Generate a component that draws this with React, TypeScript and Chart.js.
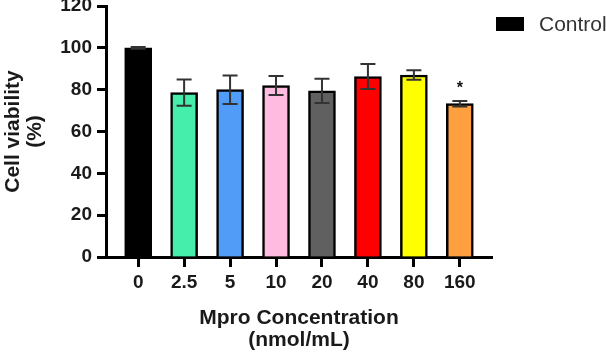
import React, { useEffect, useRef } from 'react';
import { Chart, registerables } from 'chart.js';

Chart.register(...registerables);

const categories = ['0', '2.5', '5', '10', '20', '40', '80', '160'];
const viability = [100, 78.6, 80, 82, 79.4, 86.3, 87, 73.3];
const errorMargins = [0.4, 6.3, 6.8, 4.5, 5.8, 6, 2.3, 1.3];
const barColors = ['#000000', '#45EEAA', '#509CF7', '#FFBCE0', '#606060', '#FF0000', '#FFFF00', '#FFA040'];
const significance = ['', '', '', '', '', '', '', '*'];
const yTicks = [0, 20, 40, 60, 80, 100, 120];
const seriesLabel = 'Control';
const xTitle = ['Mpro Concentration', '(nmol/mL)'];
const yTitle = ['Cell viability', '(%)'];

const FONT = '"Liberation Sans", Arial, Helvetica, sans-serif';

const overlayPlugin = {
  id: 'overlay',
  afterDatasetsDraw(chart: any) {
    const ctx = chart.ctx;
    const xs = chart.scales.x;
    const ys = chart.scales.y;
    ctx.save();
    ctx.strokeStyle = '#333333';
    ctx.lineWidth = 2;
    viability.forEach((v, i) => {
      const e = errorMargins[i];
      const cx = xs.getPixelForValue(i);
      const yTop = ys.getPixelForValue(v + e);
      const yBot = ys.getPixelForValue(v - e);
      ctx.beginPath();
      ctx.moveTo(cx, yTop);
      ctx.lineTo(cx, yBot);
      ctx.moveTo(cx - 7.5, yTop);
      ctx.lineTo(cx + 7.5, yTop);
      ctx.moveTo(cx - 7.5, yBot);
      ctx.lineTo(cx + 7.5, yBot);
      ctx.stroke();
      if (significance[i]) {
        ctx.fillStyle = '#111';
        ctx.font = `bold 16px ${FONT}`;
        ctx.textAlign = 'center';
        ctx.textBaseline = 'alphabetic';
        ctx.fillText(significance[i], cx, yTop - 8);
      }
    });
    ctx.restore();
  },
  afterDraw(chart: any) {
    const ctx = chart.ctx;
    const area = chart.chartArea;
    ctx.save();
    ctx.fillStyle = '#1a1a1a';
    ctx.font = `bold 21px ${FONT}`;
    ctx.textAlign = 'center';
    ctx.textBaseline = 'middle';
    const cx = (area.left + area.right) / 2;
    ctx.fillText(xTitle[0], cx, 318);
    ctx.fillText(xTitle[1], cx, 340);
    const cy = (area.top + area.bottom) / 2;
    ctx.save();
    ctx.translate(13, cy);
    ctx.rotate(-Math.PI / 2);
    ctx.fillText(yTitle[0], 0, 0);
    ctx.restore();
    ctx.save();
    ctx.translate(35, cy);
    ctx.rotate(-Math.PI / 2);
    ctx.fillText(yTitle[1], 0, 0);
    ctx.restore();
    // legend
    ctx.fillStyle = barColors[0];
    ctx.fillRect(496, 17, 28, 14);
    ctx.fillStyle = '#333333';
    ctx.font = `21px ${FONT}`;
    ctx.textAlign = 'left';
    ctx.fillText(seriesLabel, 539, 25);
    ctx.restore();
  },
};

export default function App() {
  const ref = useRef<HTMLCanvasElement | null>(null);
  useEffect(() => {
    if (!ref.current) return;
    const chart = new Chart(ref.current, {
      type: 'bar',
      data: {
        datasets: [
          {
            label: seriesLabel,
            data: viability.map((v, i) => ({ x: i, y: v })),
            backgroundColor: barColors,
            borderColor: '#000000',
            borderWidth: 2.5,
            barThickness: 27,
          },
        ],
      },
      options: {
        responsive: false,
        animation: false,
        devicePixelRatio: 1,
        layout: { padding: { left: 0, top: 6, right: 114, bottom: 0 } },
        plugins: { legend: { display: false }, tooltip: { enabled: false } },
        scales: {
          x: {
            type: 'linear',
            min: -0.7,
            max: 7.7,
            offset: false,
            afterBuildTicks: (s: any) => {
              s.ticks = categories.map((_, i) => ({ value: i }));
            },
            afterFit: (s: any) => {
              s.height = 97;
              s.paddingLeft = 0;
              s.paddingRight = 0;
            },
            ticks: {
              autoSkip: false,
              maxRotation: 0,
              padding: 4,
              color: '#1a1a1a',
              font: { family: FONT, size: 19, weight: 'bold' },
              callback: (v: any) => categories[Math.round(v)] ?? '',
            },
            grid: { offset: false, drawOnChartArea: false, drawTicks: true, tickLength: 10, tickWidth: 3, tickColor: '#000' },
            border: { display: true, width: 3, color: '#000' },
          },
          y: {
            type: 'linear',
            min: 0,
            max: 120,
            afterBuildTicks: (s: any) => {
              s.ticks = yTicks.map((v) => ({ value: v }));
            },
            afterFit: (s: any) => {
              s.width = 106;
              s.paddingTop = 0;
              s.paddingBottom = 0;
            },
            ticks: {
              padding: 5,
              color: '#1a1a1a',
              font: { family: FONT, size: 19, weight: 'bold' },
            },
            grid: { drawOnChartArea: false, drawTicks: true, tickLength: 9, tickWidth: 3, tickColor: '#000' },
            border: { display: true, width: 3, color: '#000' },
          },
        },
      },
      plugins: [overlayPlugin],
    } as any);
    return () => chart.destroy();
  }, []);
  return (
    <div style={{ position: 'fixed', left: 0, top: 0, width: 606, height: 354, background: '#fff' }}>
      <canvas ref={ref} width={606} height={354} style={{ display: 'block' }} />
    </div>
  );
}
